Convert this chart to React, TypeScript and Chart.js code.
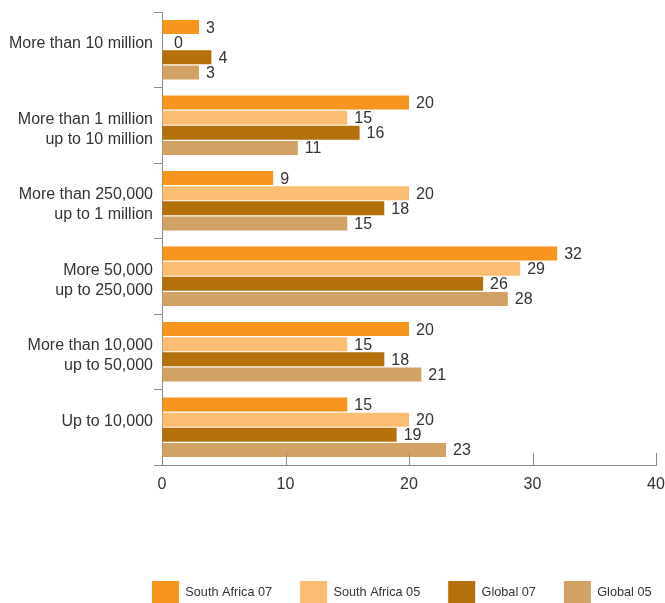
import React, { useEffect, useRef } from "react";
import { Chart, registerables } from "chart.js";

Chart.register(...registerables);

const categories: (string | string[])[] = [
  ["More than 10 million", ""],
  ["More than 1 million", "up to 10 million"],
  ["More than 250,000", "up to 1 million"],
  ["More 50,000", "up to 250,000"],
  ["More than 10,000", "up to 50,000"],
  ["Up to 10,000", ""],
];
const seriesNames = ["South Africa 07", "South Africa 05", "Global 07", "Global 05"];
const southAfrica07 = [3, 20, 9, 32, 20, 15];
const southAfrica05 = [0, 15, 20, 29, 15, 20];
const global07 = [4, 16, 18, 26, 18, 19];
const global05 = [3, 11, 15, 28, 21, 23];
const xTicks = [0, 10, 20, 30, 40];
const seriesColors = ["#F7951E", "#FBBD72", "#B3700B", "#D1A263"];

const FONT = "'Liberation Sans', Arial, Helvetica, sans-serif";
const TEXT = "#333333";
const AXIS = "#8a8a8a";
const LEGEND_PAD = 28;

const valueLabels = {
  id: "valueLabels",
  afterDatasetsDraw(chart: any) {
    const ctx = chart.ctx;
    ctx.save();
    ctx.font = `16px ${FONT}`;
    ctx.fillStyle = TEXT;
    ctx.textBaseline = "middle";
    ctx.textAlign = "left";
    chart.data.datasets.forEach((ds: any, i: number) => {
      const meta = chart.getDatasetMeta(i);
      meta.data.forEach((el: any, j: number) => {
        const v = ds.data[j];
        ctx.fillText(String(v), el.x + (v === 0 ? 12 : 7), el.y + 1);
      });
    });
    ctx.restore();
  },
};

const innerTicks = {
  id: "innerTicks",
  afterDraw(chart: any) {
    const ctx = chart.ctx;
    const xs = chart.scales.x;
    const bottom = chart.chartArea.bottom;
    ctx.save();
    ctx.strokeStyle = AXIS;
    ctx.lineWidth = 1;
    xTicks.forEach((v) => {
      if (v === 0) return;
      const px = Math.round(xs.getPixelForValue(v)) + 0.5;
      ctx.beginPath();
      ctx.moveTo(px, bottom - 12);
      ctx.lineTo(px, bottom);
      ctx.stroke();
    });
    ctx.restore();
  },
};

const legendShift = {
  id: "legendShift",
  afterLayout(chart: any) {
    const lg = chart.legend;
    if (lg) {
      const w = lg.right - lg.left;
      lg.left = 152 - LEGEND_PAD;
      lg.right = lg.left + w;
    }
  },
};

export default function App() {
  const ref = useRef<HTMLCanvasElement>(null);
  useEffect(() => {
    if (!ref.current) return;
    const seriesData = [southAfrica07, southAfrica05, global07, global05];
    const chart = new Chart(ref.current, {
      type: "bar",
      data: {
        labels: categories as any,
        datasets: seriesNames.map((name, i) => ({
          label: name,
          data: seriesData[i],
          backgroundColor: seriesColors[i],
          borderWidth: 0,
          categoryPercentage: 0.8,
          barPercentage: 0.93,
        })),
      },
      options: {
        indexAxis: "y",
        animation: false,
        responsive: false,
        maintainAspectRatio: false,
        layout: { padding: { top: 12, right: 0, left: 0, bottom: -10 } },
        plugins: {
          tooltip: { enabled: false },
          legend: {
            position: "bottom",
            align: "start",
            labels: {
              boxWidth: 27,
              boxHeight: 22,
              padding: LEGEND_PAD,
              color: TEXT,
              font: { size: 12.7, family: FONT },
            },
          },
        },
        scales: {
          x: {
            min: 0,
            max: 40,
            ticks: { stepSize: 10, color: TEXT, font: { size: 16, family: FONT }, padding: 10 },
            grid: { drawOnChartArea: false, drawTicks: false, color: AXIS },
            border: { color: AXIS, width: 1 },
            afterFit: (s: any) => {
              s.height = 116 - LEGEND_PAD;
              s.paddingRight = 9;
            },
          },
          y: {
            grid: { offset: true, drawOnChartArea: false, tickLength: 8, color: AXIS },
            border: { color: AXIS, width: 1 },
            ticks: {
              color: TEXT,
              font: { size: 16, family: FONT, lineHeight: 1.25 },
              padding: 1,
              labelOffset: 4,
            },
            afterFit: (s: any) => {
              s.width = 162;
              s.paddingTop = 0;
              s.paddingBottom = 0;
            },
          },
        },
      },
      plugins: [valueLabels, innerTicks, legendShift],
    });
    return () => chart.destroy();
  }, []);
  return (
    <div style={{ position: "absolute", left: 0, top: 0, width: 665, height: 603, background: "#fff" }}>
      <canvas ref={ref} width={665} height={603} />
    </div>
  );
}
